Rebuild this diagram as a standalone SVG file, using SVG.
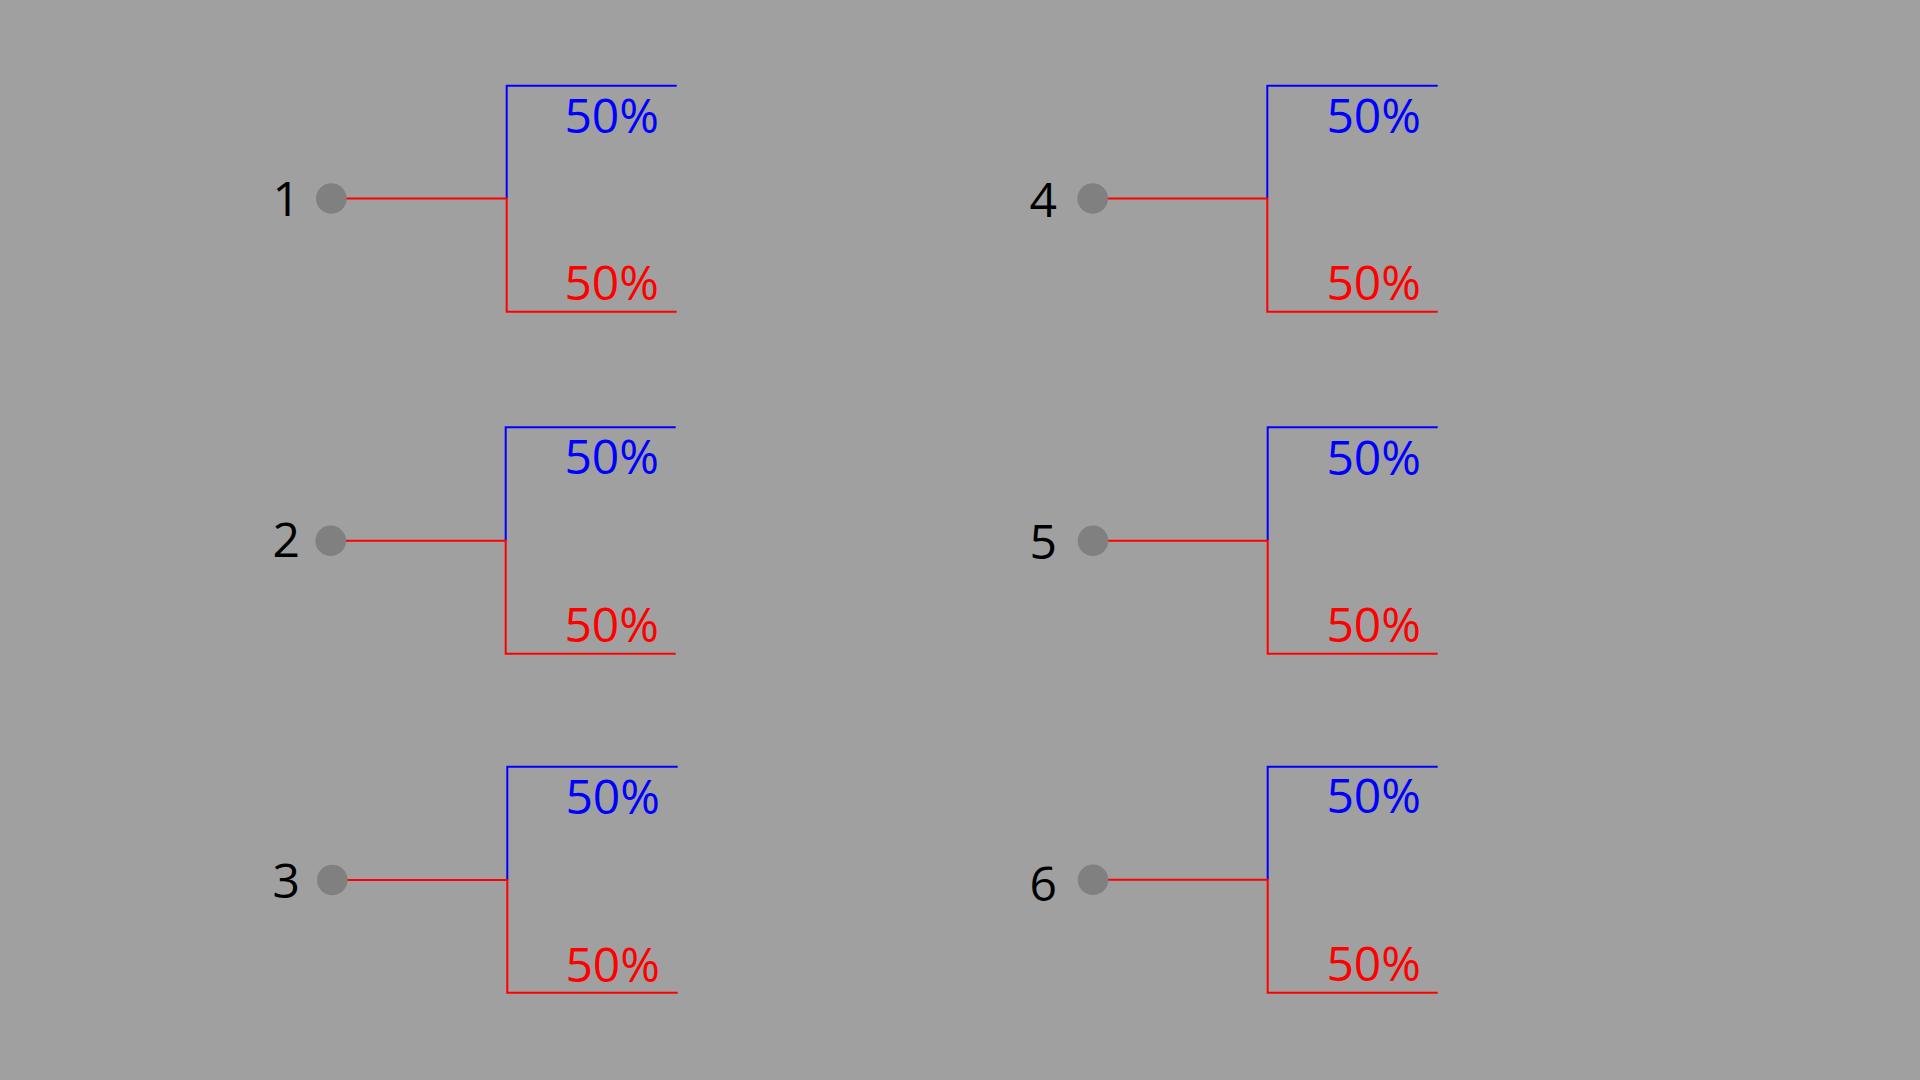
<svg xmlns="http://www.w3.org/2000/svg" width="1920" height="1080" viewBox="0 0 1920 1080">
<style>
.bg{fill:#a0a0a0}
.dot{fill:#808080}
.lbl{font-family:"Open Sans","Noto Sans","Liberation Sans",sans-serif;font-size:48px;fill:#000;text-anchor:end}
.pct{font-family:"Open Sans","Noto Sans","Liberation Sans",sans-serif;font-size:48px;text-anchor:end}
.b{fill:#0000ff}
.r{fill:#ff0000}
.lb{fill:none;stroke:#0000ff;stroke-width:2}
.lr{fill:none;stroke:#ff0000;stroke-width:2}
</style>
<rect class="bg" x="0" y="0" width="1920" height="1080"/>
<g id="connectors">
  <path class="lb" d="M676.7 85.7H506.7V198.5"/>
  <path class="lr" d="M346 198.5H506.7V311.7H676.7"/>
  <path class="lb" d="M675.7 427.3H505.7V540.7"/>
  <path class="lr" d="M345 540.7H505.7V653.7H675.7"/>
  <path class="lb" d="M677.7 766.7H507.3V880"/>
  <path class="lr" d="M347 880H507.3V992.7H677.7"/>
  <path class="lb" d="M1437.7 85.7H1267.3V198.5"/>
  <path class="lr" d="M1107 198.5H1267.3V311.7H1437.7"/>
  <path class="lb" d="M1437.7 427.3H1267.7V540.7"/>
  <path class="lr" d="M1108 540.7H1267.7V653.7H1437.7"/>
  <path class="lb" d="M1437.7 766.7H1267.7V879.7"/>
  <path class="lr" d="M1108 879.7H1267.7V992.7H1437.7"/>
</g>
<g id="node1">
  <text class="lbl" x="300" y="215.7">1</text>
  <circle class="dot" cx="331.3" cy="198.5" r="15.3"/>
  <text class="pct b" x="659" y="133.3">50%</text>
  <text class="pct r" x="659" y="300">50%</text>
</g>
<g id="node2">
  <text class="lbl" x="300" y="557.3">2</text>
  <circle class="dot" cx="330.7" cy="540.7" r="15.3"/>
  <text class="pct b" x="659" y="474.3">50%</text>
  <text class="pct r" x="659" y="641.7">50%</text>
</g>
<g id="node3">
  <text class="lbl" x="300" y="898.3">3</text>
  <circle class="dot" cx="332.3" cy="880" r="15.3"/>
  <text class="pct b" x="660" y="814">50%</text>
  <text class="pct r" x="660" y="981.7">50%</text>
</g>
<g id="node4">
  <text class="lbl" x="1057" y="217">4</text>
  <circle class="dot" cx="1092.7" cy="198.5" r="15.3"/>
  <text class="pct b" x="1421" y="133.3">50%</text>
  <text class="pct r" x="1421" y="300">50%</text>
</g>
<g id="node5">
  <text class="lbl" x="1057" y="559.3">5</text>
  <circle class="dot" cx="1093" cy="540.7" r="15.3"/>
  <text class="pct b" x="1421" y="475">50%</text>
  <text class="pct r" x="1421" y="642.3">50%</text>
</g>
<g id="node6">
  <text class="lbl" x="1057" y="900.7">6</text>
  <circle class="dot" cx="1093" cy="879.7" r="15.3"/>
  <text class="pct b" x="1421" y="813.3">50%</text>
  <text class="pct r" x="1421" y="981">50%</text>
</g>
</svg>
